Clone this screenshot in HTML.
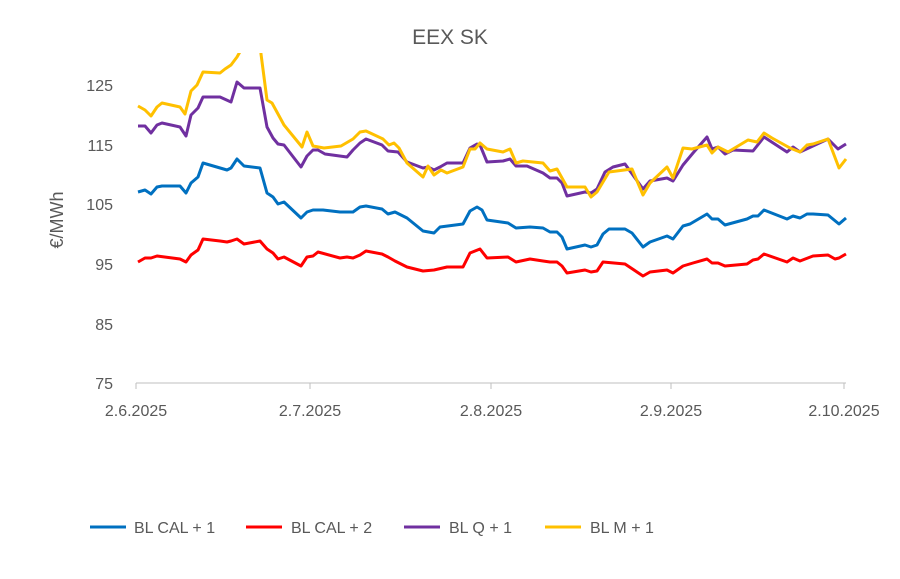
<!DOCTYPE html>
<html><head><meta charset="utf-8"><style>
body{margin:0;background:#fff;}
svg text{font-family:"Liberation Sans",sans-serif;fill:#595959;}
</style></head><body>
<svg width="900" height="574" xmlns="http://www.w3.org/2000/svg">
<text x="450" y="44" font-size="21" text-anchor="middle">EEX SK</text>
<text x="0" y="0" font-size="18" text-anchor="middle" transform="translate(63,220) rotate(-90)">€/MWh</text>
<g font-size="16" text-anchor="end">
<text x="113" y="91">125</text><text x="113" y="151">115</text><text x="113" y="210">105</text>
<text x="113" y="270">95</text><text x="113" y="330">85</text><text x="113" y="389">75</text>
</g>
<line x1="136" y1="383" x2="846" y2="383" stroke="#bfbfbf" stroke-width="1"/>
<g stroke="#bfbfbf"><line x1="136" y1="383" x2="136" y2="389"/><line x1="310" y1="383" x2="310" y2="389"/><line x1="491" y1="383" x2="491" y2="389"/><line x1="671" y1="383" x2="671" y2="389"/><line x1="844" y1="383" x2="844" y2="389"/></g>
<g font-size="16" text-anchor="middle">
<text x="136" y="416">2.6.2025</text><text x="310" y="416">2.7.2025</text><text x="491" y="416">2.8.2025</text><text x="671" y="416">2.9.2025</text><text x="844" y="416">2.10.2025</text>
</g>
<defs><clipPath id="c"><rect x="100" y="53" width="800" height="340"/></clipPath></defs>
<g fill="none" stroke-width="3" stroke-linejoin="round" clip-path="url(#c)">
<polyline stroke="#FF0000" points="138,262 145,258 151,258 157,256 180,259 186,262 191,255 198,250 203,239 220,241 227,242 231,241 237,239 244,244 260,241 267,249 273,253 278,259 284,257 301,266 307,257 313,256 318,252 340,258 347,257 353,258 360,255 366,251 382,254 388,257 395,261 407,267 423,271 434,270 447,267 463,267 470,253 480,249 487,258 508,257 516,262 530,259 543,261 550,262 557,262 562,266 567,273 585,270 591,272 597,271 603,262 625,264 643,276 650,272 667,270 673,273 683,266 693,263 707,259 712,263 718,263 725,266 747,264 753,260 758,259 764,254 787,262 793,258 800,261 813,256 828,255 835,259 839,258 846,254"/>
<polyline stroke="#0070C0" points="138,192 145,190 151,194 157,187 162,186 180,186 186,193 191,183 198,177 203,163 227,170 231,168 237,159 244,166 260,168 267,193 273,197 278,204 284,202 301,218 307,212 313,210 323,210 340,212 353,212 360,207 366,206 382,209 388,214 395,212 407,218 423,231 434,233 440,227 463,224 470,211 477,207 482,210 487,220 508,223 516,228 530,227 543,228 550,232 557,232 562,237 567,249 585,245 591,247 597,245 603,234 609,229 625,229 632,233 643,247 650,242 667,236 673,239 683,226 690,224 707,214 712,219 718,219 725,225 747,219 753,216 758,216 764,210 787,219 793,216 800,218 807,214 813,214 828,215 839,224 846,218"/>
<polyline stroke="#7030A0" points="138,126 145,126 151,133 157,125 162,123 180,127 186,136 191,115 198,108 203,97 220,97 231,102 237,82 244,88 260,88 267,127 273,138 278,144 284,145 301,167 307,156 313,150 318,150 325,154 347,157 353,150 360,143 366,139 382,145 388,151 398,152 407,162 423,168 428,167 434,170 440,167 447,163 463,163 470,148 477,144 480,145 487,162 503,161 510,159 516,166 527,166 543,173 550,178 557,178 562,183 567,196 585,192 591,193 597,189 605,172 613,167 625,164 643,189 650,181 667,178 673,181 683,165 693,153 707,137 712,149 718,147 725,154 733,150 753,151 764,137 787,152 793,147 800,152 828,139 838,149 846,144"/>
<polyline stroke="#FFC000" points="138,106 145,110 151,116 157,107 162,103 180,107 185,114 191,91 197,85 203,72 220,73 225,69 231,65 237,57 241,50 260,40 261,54 267,100 272,103 284,125 302,147 307,132 313,146 324,148 341,146 353,139 360,132 366,131 383,139 389,145 394,143 399,148 407,163 423,177 428,166 434,175 441,170 447,173 463,167 470,149 475,149 480,143 487,149 503,152 510,149 516,163 523,161 543,163 550,171 557,169 567,187 585,187 591,197 597,192 609,172 632,169 643,195 650,183 667,167 673,178 683,148 692,149 707,145 712,153 718,147 728,152 748,140 757,142 764,133 772,138 790,148 800,152 807,145 813,144 828,139 839,168 846,159"/>
</g>
<g stroke-width="3">
<line x1="90" y1="527" x2="126" y2="527" stroke="#0070C0"/>
<line x1="246" y1="527" x2="282" y2="527" stroke="#FF0000"/>
<line x1="404" y1="527" x2="440" y2="527" stroke="#7030A0"/>
<line x1="545" y1="527" x2="581" y2="527" stroke="#FFC000"/>
</g>
<g font-size="16">
<text x="134" y="533">BL CAL + 1</text><text x="291" y="533">BL CAL + 2</text>
<text x="449" y="533">BL Q + 1</text><text x="590" y="533">BL M + 1</text>
</g>
</svg>
</body></html>
